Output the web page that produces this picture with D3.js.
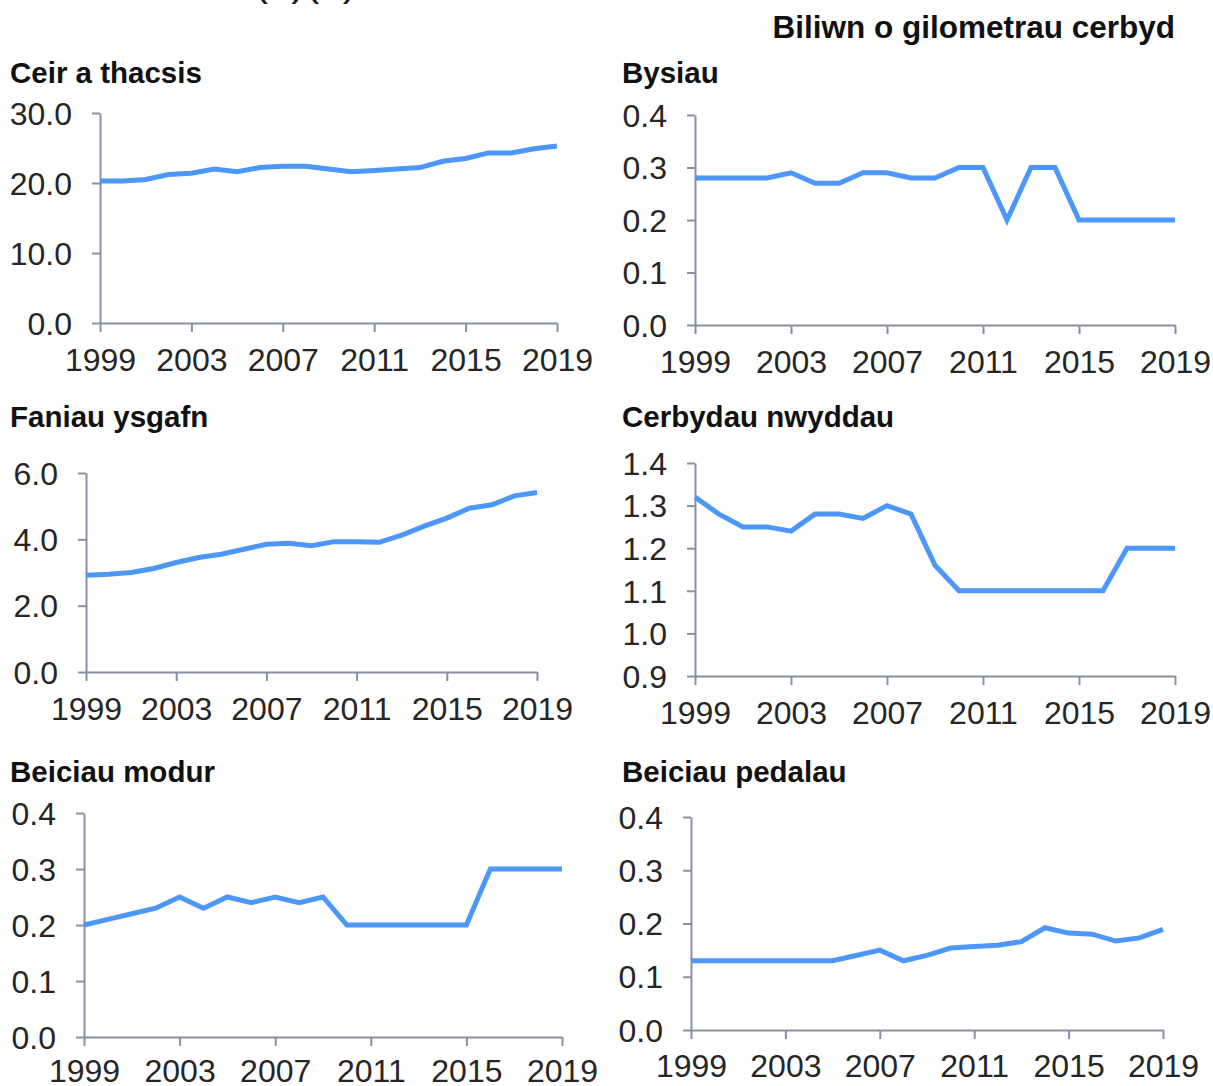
<!DOCTYPE html>
<html><head><meta charset="utf-8">
<script src="https://cdn.jsdelivr.net/npm/d3@7"></script>
<style>
body{margin:0;background:#fff;}
svg{display:block;}
</style></head>
<body>
<svg id="c" width="1213" height="1086"></svg>
<script>
const years = d3.range(1999, 2020);
const xTickYears = [1999, 2003, 2007, 2011, 2015, 2019];
const unitLabel = "Biliwn o gilometrau cerbyd";
const topNote = "(a)(b)";

const panelTitles = ["Ceir a thacsis","Bysiau","Faniau ysgafn","Cerbydau nwyddau","Beiciau modur","Beiciau pedalau"];

const carsTaxis = [20.3,20.3,20.5,21.2,21.4,22.0,21.6,22.2,22.4,22.4,22.0,21.6,21.8,22.0,22.2,23.1,23.5,24.3,24.3,24.9,25.3];
const buses = [0.28,0.28,0.28,0.28,0.29,0.27,0.27,0.29,0.29,0.28,0.28,0.30,0.30,0.20,0.30,0.30,0.20,0.20,0.20,0.20,0.20];
const lightVans = [2.92,2.95,3.0,3.12,3.3,3.45,3.55,3.7,3.85,3.88,3.81,3.93,3.93,3.91,4.13,4.4,4.64,4.94,5.04,5.31,5.41];
const goodsVehicles = [1.32,1.28,1.25,1.25,1.24,1.28,1.28,1.27,1.30,1.28,1.16,1.10,1.10,1.10,1.10,1.10,1.10,1.10,1.20,1.20,1.20];
const motorcycles = [0.20,0.21,0.22,0.23,0.25,0.23,0.25,0.24,0.25,0.24,0.25,0.20,0.20,0.20,0.20,0.20,0.20,0.30,0.30,0.30,0.30];
const pedalCycles = [0.13,0.13,0.13,0.13,0.13,0.13,0.13,0.14,0.15,0.13,0.14,0.154,0.157,0.159,0.166,0.192,0.182,0.18,0.167,0.173,0.189];

const yTicksCars = [0, 10, 20, 30];
const yTicksSmall = [0, 0.1, 0.2, 0.3, 0.4];
const yTicksVans = [0, 2, 4, 6];
const yTicksGoods = [0.9, 1.0, 1.1, 1.2, 1.3, 1.4];

const series = [carsTaxis, buses, lightVans, goodsVehicles, motorcycles, pedalCycles];
const yTickSets = [yTicksCars, yTicksSmall, yTicksVans, yTicksGoods, yTicksSmall, yTicksSmall];

// layout (pixel geometry)
const layout = [
  {tx:10, ty:83, x0:100, x1:557, yTop:113, yBot:323, pad:16},
  {tx:622, ty:83, x0:695, x1:1175, yTop:115, yBot:325, pad:16},
  {tx:10, ty:427, x0:86, x1:537, yTop:473, yBot:672, pad:16},
  {tx:622, ty:427, x0:695, x1:1175, yTop:463, yBot:676, pad:16},
  {tx:10, ty:782, x0:84, x1:562, yTop:813, yBot:1037, pad:13},
  {tx:622, ty:782, x0:691, x1:1163, yTop:817, yBot:1030, pad:15}
];

const svg = d3.select("#c");
const FONT = "Liberation Sans, Arial, sans-serif";
const AXIS = "#8a8fa6";
const LINE = "#4d96fa";
const TXT = "#262626";

svg.append("text").attr("x", 254).attr("y", -5)
  .attr("font-family", FONT).attr("font-size", 42)
  .attr("fill", "#1a1a1a").text(topNote);

svg.append("text").attr("x", 1175).attr("y", 38).attr("text-anchor", "end")
  .attr("font-family", FONT).attr("font-weight", "bold").attr("font-size", 31.5)
  .attr("fill", "#111").text(unitLabel);

series.forEach((vals, i) => {
  const L = layout[i];
  const ticks = yTickSets[i];
  const g = svg.append("g");
  g.append("text").attr("x", L.tx).attr("y", L.ty)
    .attr("font-family", FONT).attr("font-weight", "bold").attr("font-size", 29.5)
    .attr("fill", "#111").text(panelTitles[i]);

  const x = d3.scaleLinear().domain([1999, 2019]).range([L.x0, L.x1]);
  const y = d3.scaleLinear().domain([ticks[0], ticks[ticks.length-1]]).range([L.yBot, L.yTop]);

  const ya = g.append("g").attr("transform", `translate(${L.x0},0)`)
    .call(d3.axisLeft(y).tickValues(ticks).tickFormat(d3.format(".1f")).tickSize(8).tickSizeOuter(0).tickPadding(20));
  const xa = g.append("g").attr("transform", `translate(0,${L.yBot})`)
    .call(d3.axisBottom(x).tickValues(xTickYears).tickFormat(d3.format("d")).tickSize(9).tickSizeOuter(0).tickPadding(L.pad));

  [ya, xa].forEach(a => {
    a.selectAll("path.domain").attr("stroke", AXIS).attr("stroke-width", 2);
    a.selectAll(".tick line").attr("stroke", AXIS).attr("stroke-width", 2);
    a.selectAll(".tick text").attr("font-family", FONT).attr("font-size", 32).attr("fill", TXT);
  });
  ya.selectAll(".tick text").attr("dy", "0.35em");

  const line = d3.line().x((d, j) => x(years[j])).y(d => y(d));
  g.append("path").datum(vals).attr("d", line)
    .attr("fill", "none").attr("stroke", LINE).attr("stroke-width", 5)
    .attr("stroke-linejoin", "miter").attr("stroke-linecap", "butt");
});
</script>
</body></html>
